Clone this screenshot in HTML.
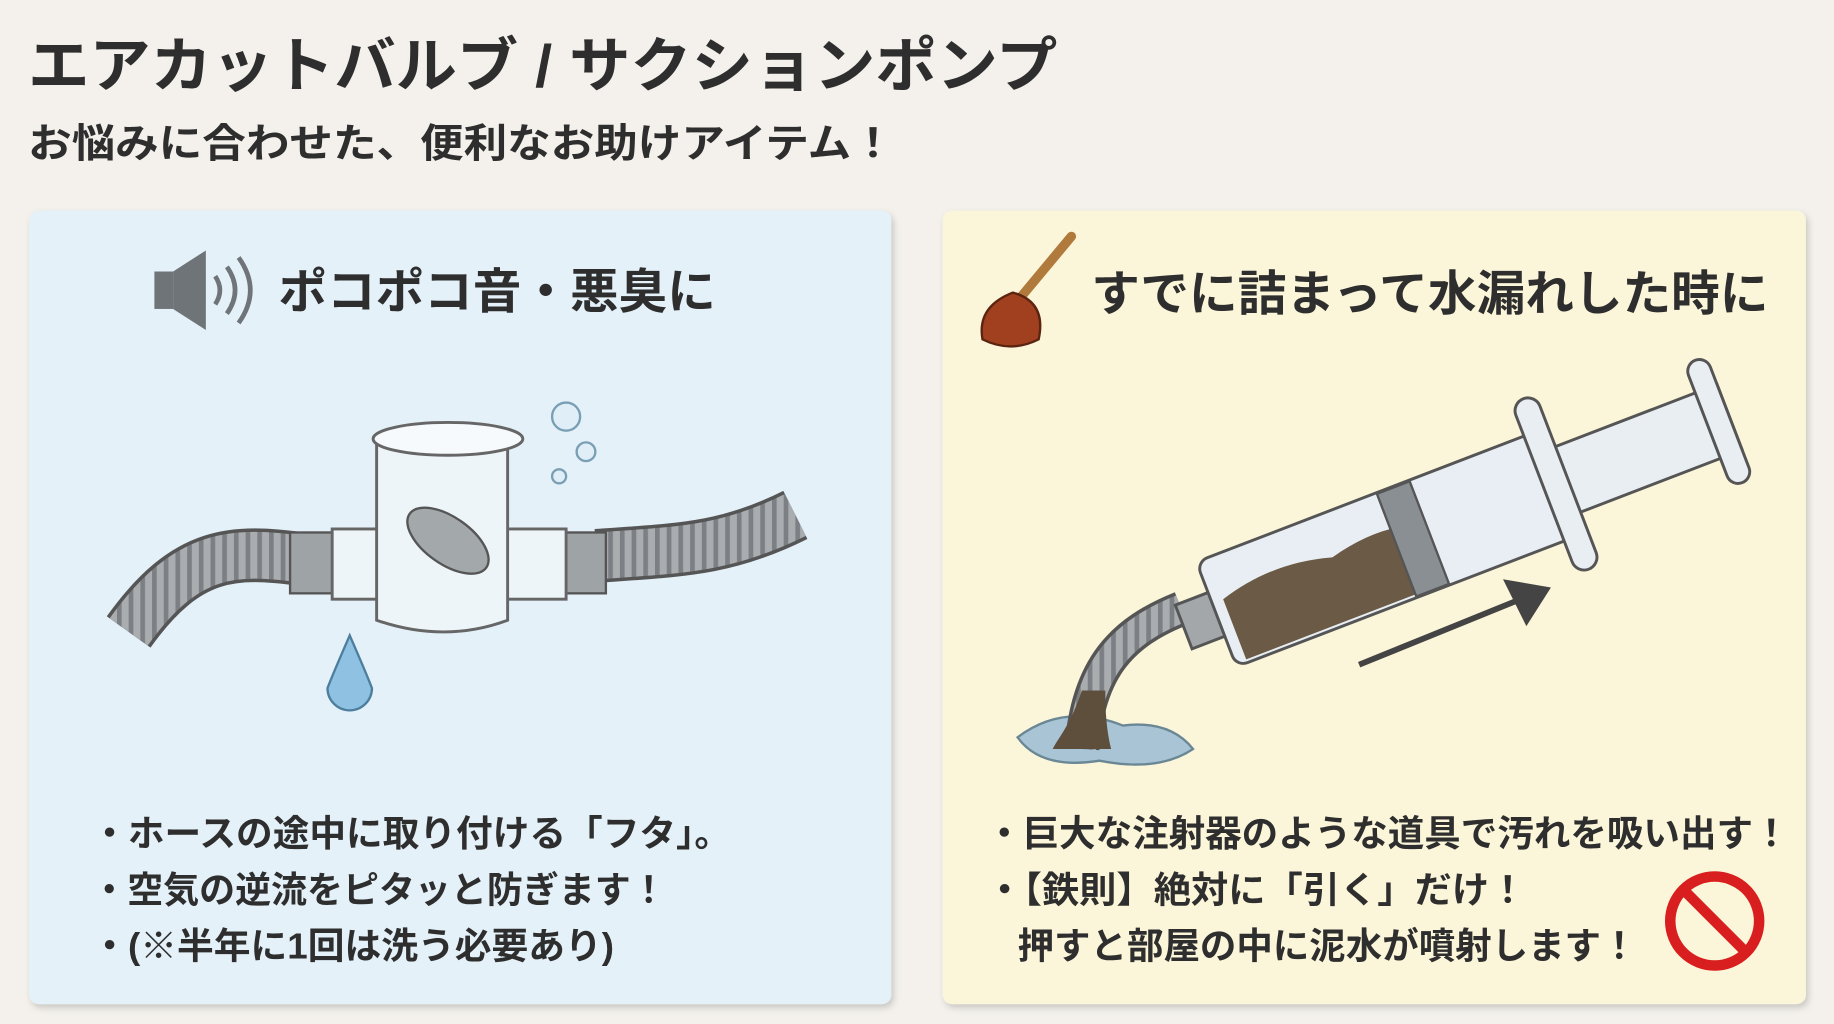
<!DOCTYPE html>
<html><head><meta charset="utf-8"><style>
html,body{margin:0;padding:0;background:#f4f1ec;}
svg{display:block}
text{font-family:"Liberation Sans","Noto Sans CJK JP",sans-serif;font-weight:bold;fill:#2e2e2e}
</style></head><body>
<svg width="1834" height="1024" viewBox="0 0 1568 875" preserveAspectRatio="none" xmlns="http://www.w3.org/2000/svg">
<defs>
<filter id="sh" x="-5%" y="-5%" width="110%" height="110%"><feDropShadow dx="2" dy="3" stdDeviation="3" flood-color="#000" flood-opacity="0.18"/></filter>
<pattern id="rib" width="10" height="10" patternUnits="userSpaceOnUse"><rect width="10" height="10" fill="#a9adb0"/><rect width="4" height="10" fill="#7c8084"/></pattern>
</defs>
<rect width="1568" height="875" fill="#f4f1ec"/>
<text x="24" y="74" font-size="51" fill="#333" textLength="880" lengthAdjust="spacingAndGlyphs">エアカットバルブ / サクションポンプ</text>
<text x="24" y="134" font-size="34" fill="#444" textLength="741" lengthAdjust="spacingAndGlyphs">お悩みに合わせた、便利なお助けアイテム！</text>

<rect x="25" y="180" width="737" height="678" rx="8" fill="#e4f1f9" filter="url(#sh)"/>
<g fill="#6f7478"><rect x="132" y="232" width="16" height="32"/><polygon points="148,232 176,214 176,282 148,264"/></g>
<g fill="none" stroke="#6f7478" stroke-width="4"><path d="M184 236 q8 12 0 24"/><path d="M194 228 q14 20 0 40"/><path d="M204 220 q20 28 0 56"/></g>
<text x="238" y="263" font-size="41" textLength="374" lengthAdjust="spacingAndGlyphs">ポコポコ音・悪臭に</text>
<path d="M110 540 C160 470 200 470 260 478" stroke="#555" stroke-width="46" fill="none"/>
<path d="M110 540 C160 470 200 470 260 478" stroke="url(#rib)" stroke-width="40" fill="none"/>
<path d="M510 475 C580 470 620 470 680 440" stroke="#555" stroke-width="46" fill="none"/>
<path d="M510 475 C580 470 620 470 680 440" stroke="url(#rib)" stroke-width="40" fill="none"/>
<rect x="248" y="455" width="40" height="52" fill="#9ea3a6" stroke="#555" stroke-width="2"/>
<rect x="482" y="455" width="36" height="52" fill="#9ea3a6" stroke="#555" stroke-width="2"/>
<rect x="284" y="452" width="200" height="60" fill="#eef5f9" stroke="#666" stroke-width="2.5"/>
<path d="M322 375 L322 530 Q380 550 434 530 L434 375" fill="#eef5f9" stroke="#666" stroke-width="2.5"/>
<ellipse cx="383" cy="375" rx="64" ry="14" fill="#f6fafc" stroke="#666" stroke-width="2.5"/>
<ellipse cx="383" cy="462" rx="40" ry="20" transform="rotate(35 383 462)" fill="#a3a8ab" stroke="#555" stroke-width="2"/>
<g fill="#dfeef7" stroke="#7a9fb5" stroke-width="2"><circle cx="484" cy="356" r="12"/><circle cx="501" cy="386" r="8"/><circle cx="478" cy="407" r="6"/></g>
<path d="M299 543 Q285 575 280 588 A19 19 0 1 0 318 588 Q313 575 299 543Z" fill="#8fc2e2" stroke="#4d7e9e" stroke-width="2"/>
<g font-size="31">
<text x="78" y="723" textLength="547" lengthAdjust="spacingAndGlyphs">・ホースの途中に取り付ける「フタ」。</text>
<text x="78" y="771" textLength="492" lengthAdjust="spacingAndGlyphs">・空気の逆流をピタッと防ぎます！</text>
<text x="78" y="819" textLength="447" lengthAdjust="spacingAndGlyphs">・(※半年に1回は洗う必要あり)</text>
</g>

<rect x="806" y="180" width="738" height="678" rx="8" fill="#fbf5d9" filter="url(#sh)"/>
<line x1="866" y1="262" x2="916" y2="202" stroke="#b07a3c" stroke-width="8" stroke-linecap="round"/>
<path d="M840 290 Q835 262 866 250 Q895 258 888 290 Q864 302 840 290Z" fill="#a0401e" stroke="#5a2410" stroke-width="2"/>
<text x="933" y="265" font-size="41" textLength="579" lengthAdjust="spacingAndGlyphs">すでに詰まって水漏れした時に</text>
<path d="M870 630 Q910 600 960 620 Q1000 615 1020 640 Q990 660 940 650 Q890 658 870 630Z" fill="#a9c4d4" stroke="#6a8796" stroke-width="2"/>
<path d="M1010 520 C960 540 930 570 925 640" stroke="#555" stroke-width="30" fill="none"/>
<path d="M1010 520 C960 540 930 570 925 640" stroke="url(#rib)" stroke-width="24" fill="none"/>
<path d="M925 590 C915 620 905 630 900 640 L950 640 C945 620 945 600 945 590Z" fill="#5e4f3c"/>
<g transform="translate(1040,525) rotate(-21)">
<rect x="-30" y="-20" width="35" height="40" fill="#a3a7aa" stroke="#555" stroke-width="2.5"/>
<rect x="300" y="-30" width="170" height="60" fill="#e8eef2" stroke="#555" stroke-width="2.5"/>
<rect x="450" y="-56" width="20" height="112" rx="10" fill="#e8eef2" stroke="#555" stroke-width="2.5"/>
<rect x="0" y="-48" width="320" height="96" rx="10" fill="#e8eef3" stroke="#555" stroke-width="2.5"/>
<path d="M10 -10 Q60 -25 110 -10 Q150 -20 180 -12 L180 45 L10 45Z" fill="#6b5a45"/>
<rect x="165" y="-47" width="30" height="94" fill="#8a8f93" stroke="#555" stroke-width="2"/>
<rect x="300" y="-78" width="22" height="156" rx="11" fill="#e8eef2" stroke="#555" stroke-width="2.5"/>
</g>
<path d="M1162 568 L1300 512" stroke="#444" stroke-width="5"/>
<polygon points="1326,502 1285,495 1305,535" fill="#444"/>
<g font-size="31">
<text x="843" y="723" textLength="687" lengthAdjust="spacingAndGlyphs">・巨大な注射器のような道具で汚れを吸い出す！</text>
<text x="843" y="771" textLength="462" lengthAdjust="spacingAndGlyphs">・【鉄則】絶対に「引く」だけ！</text>
<text x="870" y="819" textLength="530" lengthAdjust="spacingAndGlyphs">押すと部屋の中に泥水が噴射します！</text>
</g>
<circle cx="1466" cy="787" r="38" fill="none" stroke="#d81e1e" stroke-width="9"/>
<line x1="1440" y1="761" x2="1492" y2="813" stroke="#d81e1e" stroke-width="9"/>
</svg>
</body></html>
